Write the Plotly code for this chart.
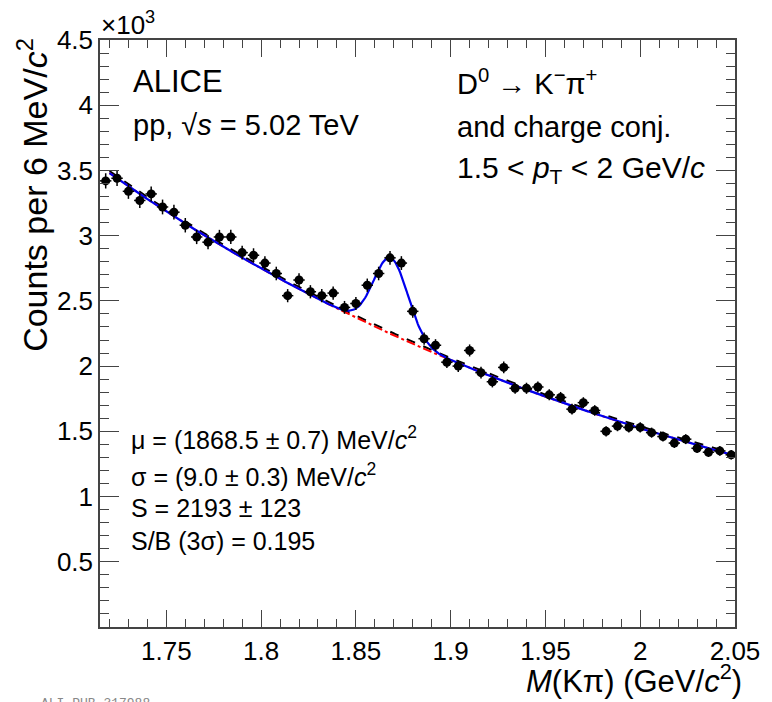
import numpy as np
import plotly.graph_objects as go

# ---- data ----
mass_bins = [1.718, 1.724, 1.730, 1.736, 1.742, 1.748, 1.754, 1.760, 1.766, 1.772,
             1.778, 1.784, 1.790, 1.796, 1.802, 1.808, 1.814, 1.820, 1.826, 1.832,
             1.838, 1.844, 1.850, 1.856, 1.862, 1.868, 1.874, 1.880, 1.886, 1.892,
             1.898, 1.904, 1.910, 1.916, 1.922, 1.928, 1.934, 1.940, 1.946, 1.952,
             1.958, 1.964, 1.970, 1.976, 1.982, 1.988, 1.994, 2.000, 2.006, 2.012,
             2.018, 2.024, 2.030, 2.036, 2.042, 2.048]
counts = [3420, 3440, 3340, 3270, 3320, 3220, 3180, 3080, 2990, 2950,
          2990, 2990, 2870, 2850, 2790, 2710, 2540, 2660, 2570, 2540,
          2560, 2450, 2480, 2620, 2710, 2830, 2790, 2420, 2210, 2160,
          2030, 2000, 2120, 1950, 1880, 1990, 1830, 1830, 1840, 1780,
          1760, 1670, 1720, 1660, 1500, 1540, 1530, 1530, 1490, 1460,
          1410, 1440, 1370, 1340, 1350, 1320]
count_errors = [float(np.sqrt(c)) for c in counts]
half_bin = 0.003

# fit parameters (from the legend) and background shape
MU = 1.8685
SIGMA = 0.0090
S_YIELD = 2193
BIN_W = 0.006
BKG_A = 3480.0      # background at 1.72 GeV/c^2
BKG_K = 2.95        # exponential slope
BKG_X0 = 1.72
SB_OFFSET = 15.0    # sideband-only background slightly above

x_ticks = [1.75, 1.8, 1.85, 1.9, 1.95, 2.0, 2.05]
x_ticktext = ["1.75", "1.8", "1.85", "1.9", "1.95", "2", "2.05"]
y_ticks = [500, 1000, 1500, 2000, 2500, 3000, 3500, 4000, 4500]
y_ticktext = ["0.5", "1", "1.5", "2", "2.5", "3", "3.5", "4", "4.5"]

# ---- fit curves ----
xf = np.linspace(1.72, 2.05, 500)
bkg = BKG_A * np.exp(-BKG_K * (xf - BKG_X0))
gaus = S_YIELD * BIN_W / (SIGMA * np.sqrt(2 * np.pi)) * np.exp(-0.5 * ((xf - MU) / SIGMA) ** 2)
total = bkg + gaus
bkg_sb = bkg + SB_OFFSET

FONT = "Liberation Sans, Arial, Helvetica, sans-serif"
fig = go.Figure()

fig.add_trace(go.Scatter(x=xf, y=bkg_sb, mode="lines",
                         line=dict(color="black", width=2, dash="dash"), hoverinfo="skip"))
fig.add_trace(go.Scatter(x=xf, y=bkg, mode="lines",
                         line=dict(color="#ff0000", width=2, dash="dashdot"), hoverinfo="skip"))
fig.add_trace(go.Scatter(x=xf, y=total, mode="lines",
                         line=dict(color="#0000ee", width=2.2), hoverinfo="skip"))
fig.add_trace(go.Scatter(
    x=mass_bins, y=counts, mode="markers",
    marker=dict(color="black", size=9, symbol="circle"),
    error_y=dict(type="data", array=count_errors, color="black", thickness=1.5, width=0),
    error_x=dict(type="constant", value=half_bin, color="black", thickness=1.5, width=0),
))

axis_common = dict(
    showgrid=False, zeroline=False, showline=True, linecolor="#444", linewidth=1.5,
    mirror="allticks", ticks="inside", tickcolor="#444", tickwidth=1,
    tickfont=dict(family=FONT, size=26, color="black"),
)
fig.update_xaxes(range=[1.715, 2.05], tickvals=x_ticks, ticktext=x_ticktext, ticklen=17,
                 minor=dict(dtick=0.01, tick0=1.75, ticklen=8, ticks="inside", tickcolor="#444"),
                 **axis_common)
fig.update_yaxes(range=[0, 4500], tickvals=y_ticks, ticktext=y_ticktext, ticklen=19,
                 minor=dict(dtick=100, tick0=0, ticklen=9, ticks="inside", tickcolor="#444"),
                 **axis_common)

W, H = 772, 702
L, R, T, B = 100, 29, 40, 75
pw, ph = W - L - R, H - T - B

def px(xp):
    return (xp - L) / pw

def py(yp):
    return (H - B - yp) / ph

ann = []
def txt(text, x, y, size, xanchor="left", yanchor="middle", color="black", family=FONT, angle=0):
    ann.append(dict(text=text, x=x, y=y, xref="paper", yref="paper", xanchor=xanchor,
                    yanchor=yanchor, showarrow=False, textangle=angle,
                    font=dict(family=family, size=size, color=color)))

txt("ALICE", px(131), py(82), 31)
txt("pp, √<i>s</i> = 5.02 TeV", px(131), py(125), 29)
txt("D<sup>0</sup> → K<sup>−</sup>π<sup>+</sup>", px(459), py(82), 29)
txt("and charge conj.", px(459), py(127), 29)
txt("1.5 < <i>p</i><sub>T</sub> < 2 GeV/<i>c</i>", px(459), py(170), 30)

txt("μ = (1868.5 ± 0.7) MeV/<i>c</i><sup>2</sup>", px(129), py(438), 25)
txt("σ = (9.0 ± 0.3) MeV/<i>c</i><sup>2</sup>", px(129), py(475), 25)
txt("S = 2193 ± 123", px(129), py(508), 25)
txt("S/B (3σ) = 0.195", px(129), py(541), 25)

txt("×10<sup>3</sup>", px(99), py(24), 26)
txt("<i>M</i>(Kπ) (GeV/<i>c</i><sup>2</sup>)", px(752), py(679), 31, xanchor="right")
txt("Counts per 6 MeV/<i>c</i><sup>2</sup>", px(31), py(36), 34, xanchor="center", yanchor="top", angle=-90)
txt("ALI-PUB-317988", px(38), py(694), 13, yanchor="top", color="#888",
    family="Liberation Mono, Courier New, monospace")

fig.update_layout(
    width=W, height=H, margin=dict(l=L, r=R, t=T, b=B),
    plot_bgcolor="white", paper_bgcolor="white", showlegend=False,
    annotations=ann,
)

fig.write_html("out.html", config={"displayModeBar": False},
               post_script="document.body.style.margin='0';document.body.style.overflow='hidden';")
